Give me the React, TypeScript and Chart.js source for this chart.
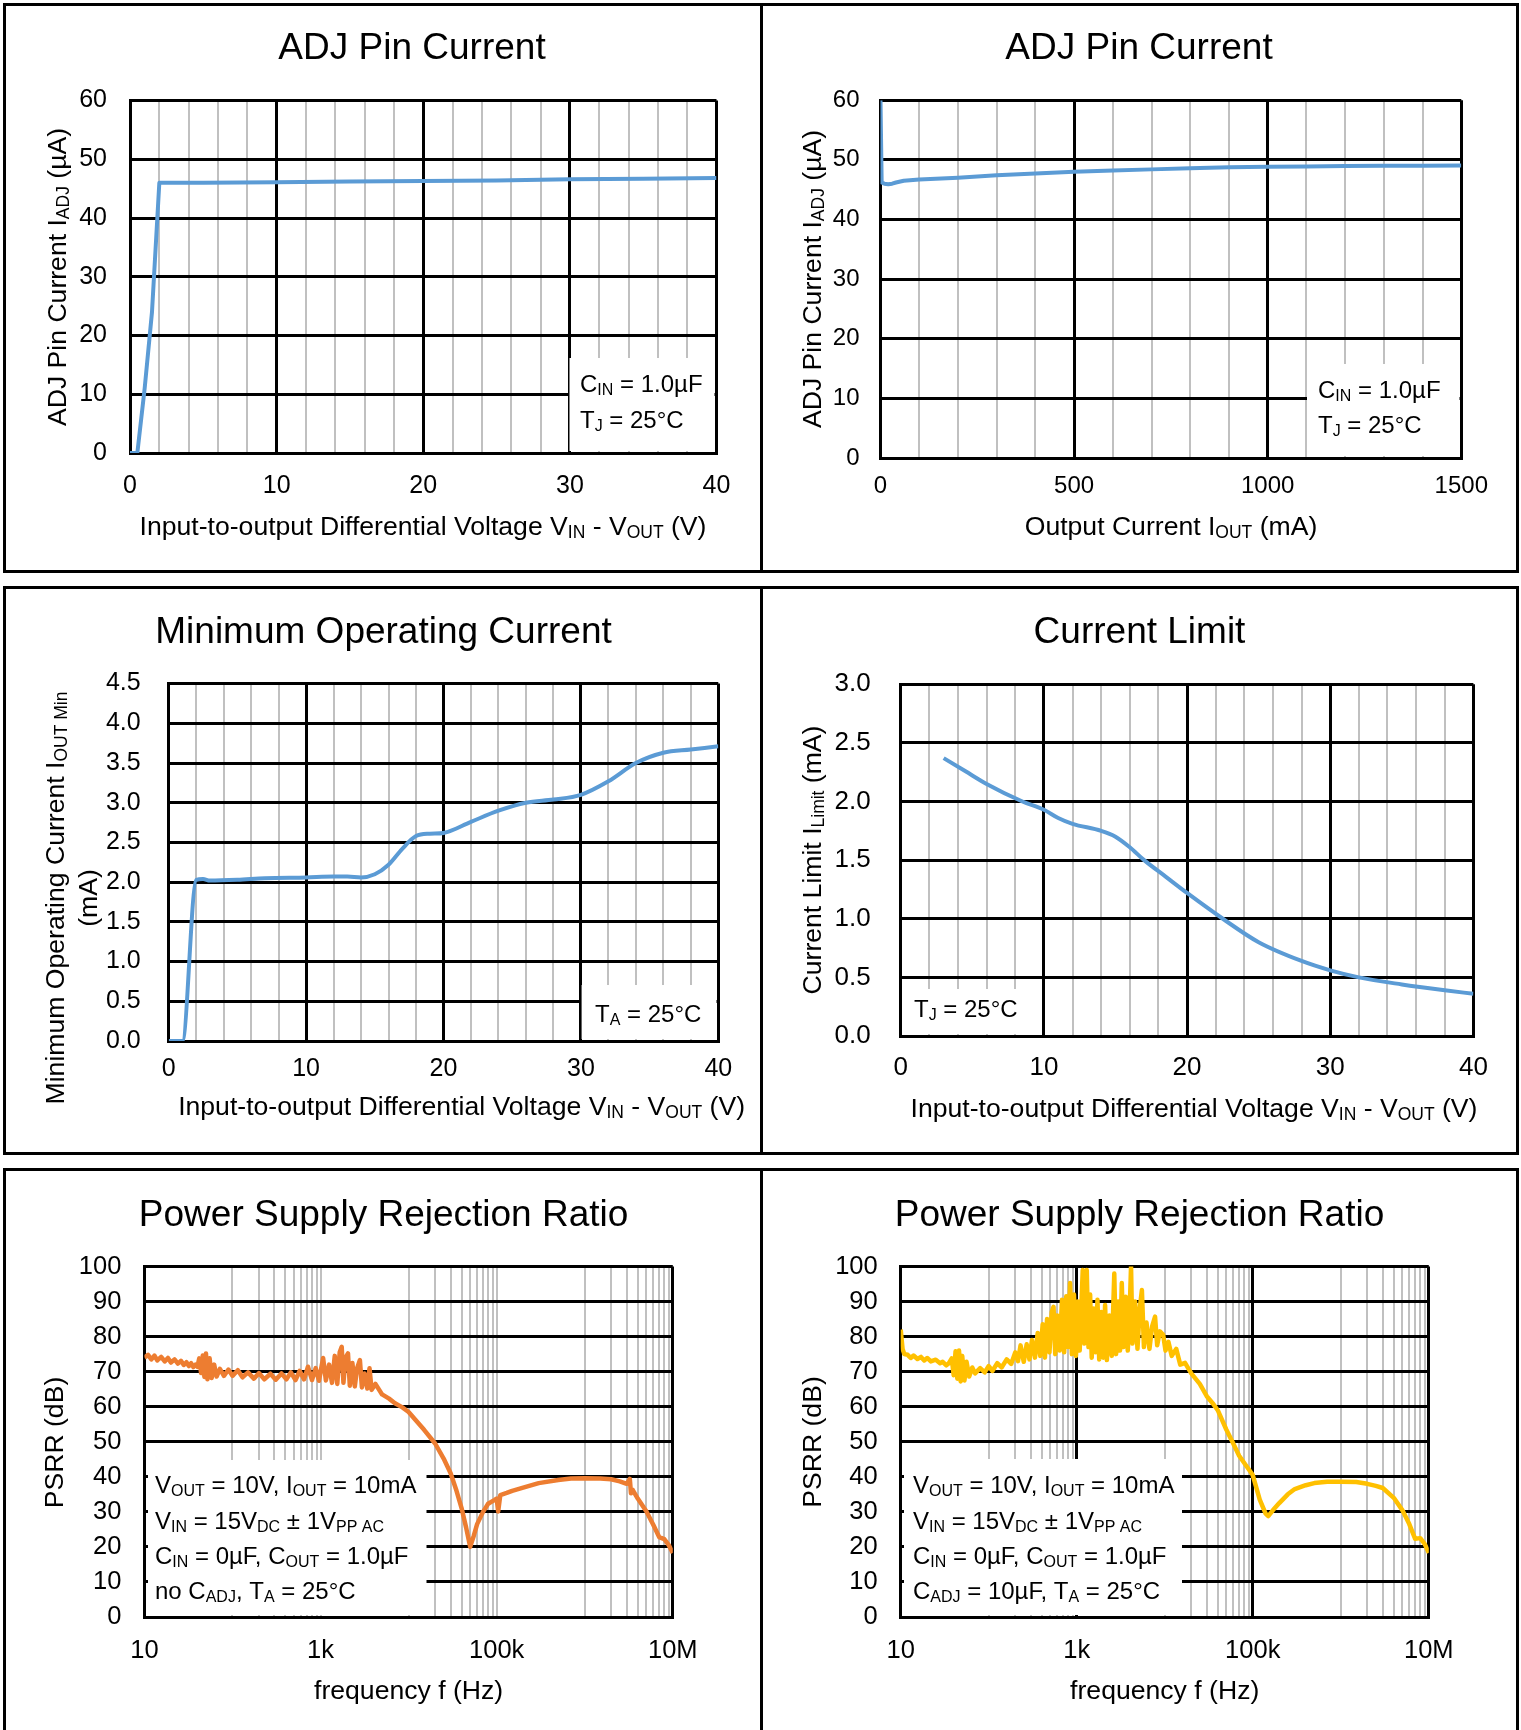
import React, { useEffect, useRef } from "react";
import { Chart, registerables } from "chart.js";

Chart.register(...registerables);

const FONT = '"Liberation Sans", Arial, Helvetica, sans-serif';
const BLUE = "#5b9bd5";
const ORANGE = "#ed7d31";
const GOLD = "#ffc000";
const GRAY = "#c0c0c0";
const BLACK = "#000000";

// ---------- Panel 1: ADJ pin current vs differential voltage ----------
const P1_VDIFF = [0, 0.5, 1, 1.5, 2, 5, 10, 15, 20, 25, 30, 35, 40];
const P1_IADJ = [0, 0, 11, 24, 46, 46, 46.1, 46.2, 46.3, 46.4, 46.6, 46.7, 46.8];

// ---------- Panel 2: ADJ pin current vs output current ----------
const P2_IOUT = [0, 3, 10, 20, 30, 40, 60, 100, 200, 300, 400, 500, 600, 700, 800, 900, 1000, 1100, 1200, 1300, 1400, 1500];
const P2_IADJ = [60, 46.2, 46.0, 45.9, 46.0, 46.2, 46.5, 46.7, 47.0, 47.4, 47.7, 48.0, 48.2, 48.4, 48.6, 48.75, 48.85, 48.9, 48.95, 49.0, 49.0, 49.05];

// ---------- Panel 3: minimum operating current ----------
const P3_VDIFF = [0, 1, 2, 2.5, 3, 5, 7, 10, 12, 13, 14, 15, 16, 17, 18, 19, 20, 22, 24, 26, 28, 30, 32, 34, 36, 38, 40];
const P3_IMIN = [0, 0, 2.03, 2.04, 2.02, 2.03, 2.05, 2.06, 2.07, 2.07, 2.06, 2.1, 2.22, 2.42, 2.58, 2.61, 2.62, 2.76, 2.9, 3.0, 3.04, 3.1, 3.27, 3.5, 3.63, 3.67, 3.71];

// ---------- Panel 4: current limit ----------
const P4_VDIFF = [3, 4.5, 6, 8.5, 10, 11, 12, 14, 15, 16, 17, 18.5, 20, 22.5, 25, 28, 30, 32, 35, 38, 40];
const P4_ILIM = [2.37, 2.26, 2.15, 2.0, 1.93, 1.86, 1.81, 1.75, 1.7, 1.61, 1.5, 1.36, 1.22, 1.0, 0.8, 0.64, 0.56, 0.5, 0.44, 0.39, 0.36];

// ---------- Panel 5: PSRR, no C_ADJ ----------
const PSRR1_FREQ = [
  10, 11, 12, 13, 14, 15.5, 17, 18.5, 20, 22, 24, 26, 28, 30, 32, 34, 36, 38, 40, 42, 44, 46, 48, 50, 52, 55, 58, 62, 66, 72, 80, 90, 100,
  115, 130, 150, 175, 200, 230, 270, 310, 360, 410, 460, 520, 580, 650, 720, 800, 880, 960,
  1070, 1150, 1250, 1350, 1450, 1550, 1650, 1740, 1820, 1920, 2050, 2150, 2300, 2450, 2600, 2800,
  2950, 3150, 3400, 3600, 3800, 4200, 5000, 6000, 7000, 8500, 10000, 12000, 15000, 20000, 25000,
  30000, 35000, 40000, 45000, 50000, 55000, 60000, 70000, 80000, 95000, 100000, 104000, 110000,
  130000, 150000, 200000, 300000, 500000, 700000, 1000000, 1500000, 2000000, 2500000, 3000000,
  3250000, 3350000, 3500000, 4000000, 5000000, 6000000, 7000000, 8000000, 9000000, 10000000,
];
const PSRR1_DB = [
  74.0, 74.8, 73.5, 74.6, 73.2, 74.2, 72.9, 73.9, 72.6, 73.5, 72.3, 73.1, 71.9, 72.7, 71.6, 72.4, 71.3, 72.0, 71.4, 73.8, 69.6, 74.6, 68.5, 75.2, 67.8, 73.8, 68.2, 72.0, 68.6, 70.8, 68.8, 70.6, 68.8,
  70.4, 68.4, 69.8, 68.0, 69.6, 67.8, 69.4, 67.7, 69.5, 67.8, 69.8, 67.6, 70.2, 67.8, 71.4, 67.6, 71.0, 67.4,
  73.9, 67.5, 72.0, 66.8, 74.5, 66.5, 75.5, 77.1, 66.8, 74.0, 75.2, 66.0, 72.5, 65.8, 71.0, 73.3,
  65.5, 69.5, 65.2, 71.0, 64.8, 66.5, 63.5, 62.3, 61.0, 59.8, 58.5, 56.2, 53.4, 49.5, 45.2,
  41.0, 36.0, 31.0, 25.5, 20.0, 23.2, 26.5, 30.0, 32.3, 33.4, 33.8, 30.1, 34.8,
  35.4, 36.0, 36.9, 38.2, 39.1, 39.5, 39.6, 39.5, 39.3, 38.7, 38.0,
  39.4, 35.3, 36.3, 33.8, 30.2, 26.3, 22.8, 22.2, 20.5, 18.3,
];

// ---------- Panel 6: PSRR, C_ADJ = 10uF ----------
const PSRR2_FREQ = [
  10, 10.5, 11, 12, 13, 14, 15.5, 17, 18.5, 20, 22, 25, 28, 30, 33, 35, 38, 40, 42, 44, 46, 48, 50, 53, 56, 60, 65, 70, 80, 90, 100,
  110, 125, 140, 160, 180, 200, 215, 230, 250, 270, 290, 310, 335, 360, 385, 410, 435, 460, 490, 520,
  545, 570, 600, 640, 680, 720, 760, 800, 840, 880, 930, 980, 1030, 1080, 1170, 1220, 1300, 1360,
  1420, 1480, 1560, 1640, 1720, 1800, 1900, 2000, 2100, 2200, 2350, 2500, 2670, 2800, 2950, 3100,
  3250, 3400, 3600, 3800, 4000, 4140, 4300, 4600, 4900, 5200, 5500, 5800, 6200, 6700, 7200, 7760,
  8200, 8800, 9600, 10200, 11000, 12000, 13500, 15000, 17000, 20000, 25000, 30000, 35000, 40000,
  50000, 60000, 70000, 85000, 100000, 120000, 140000, 150000, 170000, 200000, 250000, 300000,
  400000, 500000, 700000, 1000000, 1500000, 2000000, 2500000, 3000000, 4000000, 5000000, 6000000,
  7000000, 8000000, 9000000, 10000000,
];
const PSRR2_DB = [
  82.0, 76.5, 75.0, 74.8, 73.9, 74.6, 73.6, 74.2, 73.2, 73.9, 72.9, 73.4, 72.4, 72.8, 71.8, 72.3, 73.8, 69.0, 75.8, 68.0, 76.0, 67.2, 74.5, 67.5, 72.8, 68.6, 71.2, 69.5, 71.0, 69.8, 71.6,
  70.2, 72.4, 71.2, 73.5, 72.2, 75.5, 73.0, 77.5, 72.8, 77.8, 73.5, 79.0, 74.0, 81.0, 74.5, 83.5, 74.0, 85.0, 75.5, 87.0,
  88.5, 75.0, 86.0, 76.0, 90.5, 75.5, 91.5, 77.0, 95.3, 75.0, 92.0, 74.5, 90.0, 76.0, 99.0, 78.0, 99.0, 77.0,
  92.0, 74.0, 88.0, 75.5, 90.5, 73.5, 87.0, 74.0, 89.0, 73.3, 86.0, 74.5, 98.0, 75.0, 90.0, 76.0,
  95.3, 77.0, 91.4, 76.0, 88.0, 100.0, 78.0, 90.0, 76.5, 88.0, 93.3, 77.0, 84.0, 76.5, 83.0, 85.7,
  77.5, 81.5, 80.5, 76.0, 78.5, 74.5, 76.5, 72.0, 72.5, 69.5, 66.5, 63.0, 61.0, 59.0,
  53.5, 49.5, 46.0, 43.0, 40.5, 33.5, 29.5, 28.8, 30.5, 32.5, 35.0, 36.5,
  37.6, 38.2, 38.6, 38.6, 38.5, 38.0, 37.4, 36.8, 34.0, 30.5, 26.5,
  22.3, 22.5, 20.8, 18.3,
];

// ---------- Axis ticks / grid ----------
const FREQ_TICKS = [10, 1000, 100000, 10000000];
const FREQ_LABELS = ["10", "1k", "100k", "10M"];
const FREQ_GRID = [
  10, 100, 200, 300, 400, 500, 600, 700, 800, 900, 1000,
  10000, 20000, 30000, 40000, 50000, 60000, 70000, 80000, 90000, 100000,
  1000000, 2000000, 3000000, 4000000, 5000000, 6000000, 7000000, 8000000, 9000000, 10000000,
];
const VDIFF_GRID = [0, 2, 4, 6, 8, 10, 12, 14, 16, 18, 20, 22, 24, 26, 28, 30, 32, 34, 36, 38, 40];
const IOUT_GRID = [0, 100, 200, 300, 400, 500, 600, 700, 800, 900, 1000, 1100, 1200, 1300, 1400, 1500];
const Y_ADJ_TICKS = [0, 10, 20, 30, 40, 50, 60];
const Y_MIN_TICKS = [0, 0.5, 1, 1.5, 2, 2.5, 3, 3.5, 4, 4.5];
const Y_LIM_TICKS = [0, 0.5, 1, 1.5, 2, 2.5, 3];
const Y_PSRR_TICKS = [0, 10, 20, 30, 40, 50, 60, 70, 80, 90, 100];

// ---------- Types ----------
type Box = { x: number; y: number; w: number; h: number };
type Area = { l: number; r: number; t: number; b: number };
type TextItem = { s: string; x: number; y: number; size: number; sub?: number; align?: "left" | "center"; rot?: boolean };

interface PanelSpec {
  id: string;
  box: Box;
  area: Area;
  xType: "linear" | "logarithmic";
  xMin: number;
  xMax: number;
  xGrid: number[];
  xIsMajor: (v: number) => boolean;
  xLabel: (v: number) => string;
  yMin: number;
  yMax: number;
  yGrid: number[];
  yLabel: (v: number) => string;
  tickSize: number;
  xPad: number;
  yPad: number;
  datasets: any[];
  whiteBoxes: number[][];
  texts: TextItem[];
}

function pts(xs: number[], ys: number[]) {
  return xs.map((x, i) => ({ x, y: ys[i] }));
}

function parseRich(s: string) {
  const out: { t: string; sub: boolean }[] = [];
  const re = /_\{([^}]*)\}/g;
  let last = 0;
  let m: RegExpExecArray | null;
  while ((m = re.exec(s))) {
    if (m.index > last) out.push({ t: s.slice(last, m.index), sub: false });
    out.push({ t: m[1], sub: true });
    last = re.lastIndex;
  }
  if (last < s.length) out.push({ t: s.slice(last), sub: false });
  return out;
}

function drawRich(ctx: CanvasRenderingContext2D, t: TextItem, ox: number, oy: number) {
  const size = t.size;
  const subSize = t.sub ?? size * 0.65;
  const segs = parseRich(t.s);
  const ws: number[] = [];
  let w = 0;
  for (const sg of segs) {
    ctx.font = `${sg.sub ? subSize : size}px ${FONT}`;
    const m = ctx.measureText(sg.t).width;
    ws.push(m);
    w += m;
  }
  ctx.save();
  ctx.translate(t.x - ox, t.y - oy);
  if (t.rot) ctx.rotate(-Math.PI / 2);
  ctx.fillStyle = BLACK;
  ctx.textAlign = "left";
  ctx.textBaseline = "alphabetic";
  let cx = t.align === "left" ? 0 : -w / 2;
  segs.forEach((sg, i) => {
    ctx.font = `${sg.sub ? subSize : size}px ${FONT}`;
    ctx.fillText(sg.t, cx, sg.sub ? size * 0.13 : 0);
    cx += ws[i];
  });
  ctx.restore();
}

const VDIFF_TITLE = "Input-to-output Differential Voltage V_{IN} - V_{OUT} (V)";
const T_SIZE = 37;
const A_SIZE = 26.6;
const A_SUB = 17.5;
const N_SIZE = 24;
const N_SUB = 16;

const lineDs = (data: any[], color: string, width: number, smooth: boolean) => ({
  data,
  borderColor: color,
  backgroundColor: color,
  borderWidth: width,
  pointRadius: 0,
  fill: false,
  borderJoinStyle: "round",
  tension: smooth ? 0.4 : 0,
  cubicInterpolationMode: smooth ? "monotone" : "default",
});

const tenMajor = (v: number) => Math.abs(v % 10) < 1e-9;
const tenLabel = (v: number) => (Math.abs(v % 10) < 1e-9 ? String(v) : "");

const LEFT_X = 6, LEFT_W = 754, RIGHT_X = 763, RIGHT_W = 753;
const ROW1 = { y: 6, h: 564 }, ROW2 = { y: 589, h: 563 }, ROW3 = { y: 1171, h: 559 };

const psrrNotes = (x: number, last: string): TextItem[] => [
  { s: "V_{OUT} = 10V, I_{OUT} = 10mA", x, y: 1493, size: N_SIZE, sub: N_SUB, align: "left" },
  { s: "V_{IN} = 15V_{DC} ± 1V_{PP AC}", x, y: 1529, size: N_SIZE, sub: N_SUB, align: "left" },
  { s: "C_{IN} = 0µF, C_{OUT} = 1.0µF", x, y: 1564, size: N_SIZE, sub: N_SUB, align: "left" },
  { s: last, x, y: 1599, size: N_SIZE, sub: N_SUB, align: "left" },
];

const freqLabel = (v: number) => {
  const i = FREQ_TICKS.indexOf(v);
  return i >= 0 ? FREQ_LABELS[i] : "";
};

const PANELS: PanelSpec[] = [
  {
    id: "p1",
    box: { x: LEFT_X, y: ROW1.y, w: LEFT_W, h: ROW1.h },
    area: { l: 130, r: 716.5, t: 100.5, b: 453 },
    xType: "linear", xMin: 0, xMax: 40, xGrid: VDIFF_GRID, xIsMajor: tenMajor, xLabel: tenLabel,
    yMin: 0, yMax: 60, yGrid: Y_ADJ_TICKS, yLabel: (v) => String(v),
    tickSize: 25, xPad: 18, yPad: 23,
    datasets: [lineDs(pts(P1_VDIFF, P1_IADJ), BLUE, 4, false)],
    whiteBoxes: [[569.5, 358, 714.5, 451]],
    texts: [
      { s: "ADJ Pin Current", x: 412, y: 59, size: T_SIZE },
      { s: VDIFF_TITLE, x: 423, y: 534.5, size: A_SIZE, sub: A_SUB },
      { s: "ADJ Pin Current I_{ADJ} (µA)", x: 65.5, y: 277, size: A_SIZE, sub: A_SUB, rot: true },
      { s: "C_{IN} = 1.0µF", x: 580, y: 392, size: N_SIZE, sub: N_SUB, align: "left" },
      { s: "T_{J} = 25°C", x: 580, y: 428, size: N_SIZE, sub: N_SUB, align: "left" },
    ],
  },
  {
    id: "p2",
    box: { x: RIGHT_X, y: ROW1.y, w: RIGHT_W, h: ROW1.h },
    area: { l: 880.5, r: 1461.3, t: 100.2, b: 458 },
    xType: "linear", xMin: 0, xMax: 1500, xGrid: IOUT_GRID,
    xIsMajor: (v) => v % 500 === 0, xLabel: (v) => (v % 500 === 0 ? String(v) : ""),
    yMin: 0, yMax: 60, yGrid: Y_ADJ_TICKS, yLabel: (v) => String(v),
    tickSize: 24, xPad: 14, yPad: 21,
    datasets: [lineDs(pts(P2_IOUT, P2_IADJ), BLUE, 4, false)],
    whiteBoxes: [[1307, 364, 1459.5, 456]],
    texts: [
      { s: "ADJ Pin Current", x: 1139, y: 59, size: T_SIZE },
      { s: "Output Current I_{OUT} (mA)", x: 1171, y: 534.5, size: A_SIZE, sub: A_SUB },
      { s: "ADJ Pin Current I_{ADJ} (µA)", x: 820.5, y: 279, size: A_SIZE, sub: A_SUB, rot: true },
      { s: "C_{IN} = 1.0µF", x: 1318, y: 398, size: N_SIZE, sub: N_SUB, align: "left" },
      { s: "T_{J} = 25°C", x: 1318, y: 433, size: N_SIZE, sub: N_SUB, align: "left" },
    ],
  },
  {
    id: "p3",
    box: { x: LEFT_X, y: ROW2.y, w: LEFT_W, h: ROW2.h },
    area: { l: 168.7, r: 718.3, t: 683.6, b: 1041 },
    xType: "linear", xMin: 0, xMax: 40, xGrid: VDIFF_GRID, xIsMajor: tenMajor, xLabel: tenLabel,
    yMin: 0, yMax: 4.5, yGrid: Y_MIN_TICKS, yLabel: (v) => v.toFixed(1),
    tickSize: 25, xPad: 13, yPad: 28,
    datasets: [lineDs(pts(P3_VDIFF, P3_IMIN), BLUE, 4, true)],
    whiteBoxes: [[581.6, 985, 716.5, 1039]],
    texts: [
      { s: "Minimum Operating Current", x: 383.5, y: 643, size: T_SIZE },
      { s: VDIFF_TITLE, x: 461.6, y: 1114.5, size: A_SIZE, sub: A_SUB },
      { s: "Minimum Operating Current I_{OUT Min}", x: 63.5, y: 898, size: A_SIZE, sub: A_SUB, rot: true },
      { s: "(mA)", x: 96.5, y: 898, size: A_SIZE, sub: A_SUB, rot: true },
      { s: "T_{A} = 25°C", x: 595, y: 1022, size: N_SIZE, sub: N_SUB, align: "left" },
    ],
  },
  {
    id: "p4",
    box: { x: RIGHT_X, y: ROW2.y, w: RIGHT_W, h: ROW2.h },
    area: { l: 900.7, r: 1473.4, t: 684.3, b: 1036 },
    xType: "linear", xMin: 0, xMax: 40, xGrid: VDIFF_GRID, xIsMajor: tenMajor, xLabel: tenLabel,
    yMin: 0, yMax: 3, yGrid: Y_LIM_TICKS, yLabel: (v) => v.toFixed(1),
    tickSize: 26, xPad: 16, yPad: 30,
    datasets: [lineDs(pts(P4_VDIFF, P4_ILIM), BLUE, 4, true)],
    whiteBoxes: [[903, 989, 1032, 1034]],
    texts: [
      { s: "Current Limit", x: 1139.5, y: 643, size: T_SIZE },
      { s: VDIFF_TITLE, x: 1194, y: 1116.5, size: A_SIZE, sub: A_SUB },
      { s: "Current Limit I_{Limit} (mA)", x: 820.5, y: 860, size: A_SIZE, sub: A_SUB, rot: true },
      { s: "T_{J} = 25°C", x: 914, y: 1016.5, size: N_SIZE, sub: N_SUB, align: "left" },
    ],
  },
  {
    id: "p5",
    box: { x: LEFT_X, y: ROW3.y, w: LEFT_W, h: ROW3.h },
    area: { l: 144.4, r: 672.8, t: 1266.5, b: 1617 },
    xType: "logarithmic", xMin: 10, xMax: 10000000, xGrid: FREQ_GRID,
    xIsMajor: (v) => v === 10 || v === 10000000, xLabel: freqLabel,
    yMin: 0, yMax: 100, yGrid: Y_PSRR_TICKS, yLabel: (v) => String(v),
    tickSize: 25.5, xPad: 18.5, yPad: 23,
    datasets: [lineDs(pts(PSRR1_FREQ, PSRR1_DB), ORANGE, 4.5, false)],
    whiteBoxes: [[148, 1460, 426.5, 1615]],
    texts: [
      { s: "Power Supply Rejection Ratio", x: 383.6, y: 1226, size: T_SIZE },
      { s: "frequency f (Hz)", x: 408.6, y: 1698.5, size: A_SIZE, sub: A_SUB },
      { s: "PSRR (dB)", x: 62.5, y: 1442.5, size: A_SIZE, sub: A_SUB, rot: true },
      ...psrrNotes(155, "no C_{ADJ}, T_{A} = 25°C"),
    ],
  },
  {
    id: "p6",
    box: { x: RIGHT_X, y: ROW3.y, w: RIGHT_W, h: ROW3.h },
    area: { l: 900.7, r: 1428.8, t: 1266.5, b: 1617 },
    xType: "logarithmic", xMin: 10, xMax: 10000000, xGrid: FREQ_GRID,
    xIsMajor: (v) => FREQ_TICKS.indexOf(v) >= 0, xLabel: freqLabel,
    yMin: 0, yMax: 100, yGrid: Y_PSRR_TICKS, yLabel: (v) => String(v),
    tickSize: 25.5, xPad: 18.5, yPad: 23,
    datasets: [lineDs(pts(PSRR2_FREQ, PSRR2_DB), GOLD, 4.5, false)],
    whiteBoxes: [[904, 1459, 1182, 1615]],
    texts: [
      { s: "Power Supply Rejection Ratio", x: 1139.5, y: 1226, size: T_SIZE },
      { s: "frequency f (Hz)", x: 1164.7, y: 1698.5, size: A_SIZE, sub: A_SUB },
      { s: "PSRR (dB)", x: 820.5, y: 1442, size: A_SIZE, sub: A_SUB, rot: true },
      ...psrrNotes(913, "C_{ADJ} = 10µF, T_{A} = 25°C"),
    ],
  },
];

function buildConfig(spec: PanelSpec): any {
  const { box, area } = spec;
  const padLeft = 2;
  const yW = area.l - box.x - padLeft;
  const xH = box.y + box.h - area.b;
  const decor = {
    id: "decor_" + spec.id,
    beforeDatasetsDraw(chart: any) {
      const ctx = chart.ctx;
      ctx.save();
      ctx.fillStyle = "#ffffff";
      for (const b of spec.whiteBoxes) {
        ctx.fillRect(b[0] - box.x, b[1] - box.y, b[2] - b[0], b[3] - b[1]);
      }
      ctx.restore();
    },
    afterDraw(chart: any) {
      const ctx = chart.ctx;
      for (const t of spec.texts) drawRich(ctx, t, box.x, box.y);
    },
  };
  const tickFont = { family: FONT, size: spec.tickSize };
  return {
    type: "line",
    data: { datasets: spec.datasets },
    plugins: [decor],
    options: {
      animation: false,
      responsive: false,
      devicePixelRatio: 1,
      events: [],
      parsing: true,
      layout: {
        padding: { left: padLeft, top: area.t - box.y, right: box.x + box.w - area.r, bottom: 0 },
      },
      plugins: { legend: { display: false }, tooltip: { enabled: false }, title: { display: false } },
      scales: {
        x: {
          type: spec.xType,
          position: "bottom",
          min: spec.xMin,
          max: spec.xMax,
          afterBuildTicks: (s: any) => {
            s.ticks = spec.xGrid.map((v) => ({ value: v }));
          },
          afterFit: (s: any) => {
            s.height = xH;
          },
          ticks: {
            autoSkip: false,
            maxRotation: 0,
            minRotation: 0,
            padding: spec.xPad,
            color: BLACK,
            font: tickFont,
            callback: (v: any) => spec.xLabel(Number(v)),
          },
          grid: {
            drawTicks: false,
            color: (c: any) => (c.tick && spec.xIsMajor(c.tick.value) ? BLACK : GRAY),
            lineWidth: (c: any) => (c.tick && spec.xIsMajor(c.tick.value) ? 3 : 2),
          },
          border: { display: true, color: BLACK, width: 3 },
        },
        y: {
          type: "linear",
          position: "left",
          min: spec.yMin,
          max: spec.yMax,
          afterBuildTicks: (s: any) => {
            s.ticks = spec.yGrid.map((v) => ({ value: v }));
          },
          afterFit: (s: any) => {
            s.width = yW;
          },
          ticks: {
            autoSkip: false,
            padding: spec.yPad,
            color: BLACK,
            font: tickFont,
            callback: (v: any) => spec.yLabel(Number(v)),
          },
          grid: { drawTicks: false, color: BLACK, lineWidth: 3 },
          border: { display: true, color: BLACK, width: 3 },
        },
      },
    },
  };
}

function ChartPanel({ spec }: { spec: PanelSpec }) {
  const ref = useRef<HTMLCanvasElement | null>(null);
  useEffect(() => {
    const c = ref.current;
    if (!c) return;
    const chart = new Chart(c, buildConfig(spec));
    return () => chart.destroy();
  }, [spec]);
  return (
    <canvas
      ref={ref}
      width={spec.box.w}
      height={spec.box.h}
      style={{ position: "absolute", left: spec.box.x, top: spec.box.y, width: spec.box.w, height: spec.box.h }}
    />
  );
}

const FRAME_ROWS = [
  { top: 3, h: 570 },
  { top: 586, h: 569 },
  { top: 1168, h: 600 },
];

export default function App() {
  return (
    <div
      style={{
        position: "absolute",
        left: 0,
        top: 0,
        width: 1521,
        height: 1730,
        background: "#ffffff",
        overflow: "hidden",
        fontFamily: FONT,
      }}
    >
      {FRAME_ROWS.map((r, i) => (
        <div
          key={"f" + i}
          style={{
            position: "absolute",
            left: 3,
            top: r.top,
            width: 1516,
            height: r.h,
            border: "3px solid #000",
            boxSizing: "border-box",
          }}
        />
      ))}
      {FRAME_ROWS.map((r, i) => (
        <div
          key={"d" + i}
          style={{ position: "absolute", left: 760, top: r.top, width: 3, height: r.h, background: "#000" }}
        />
      ))}
      {PANELS.map((p) => (
        <ChartPanel key={p.id} spec={p} />
      ))}
    </div>
  );
}
